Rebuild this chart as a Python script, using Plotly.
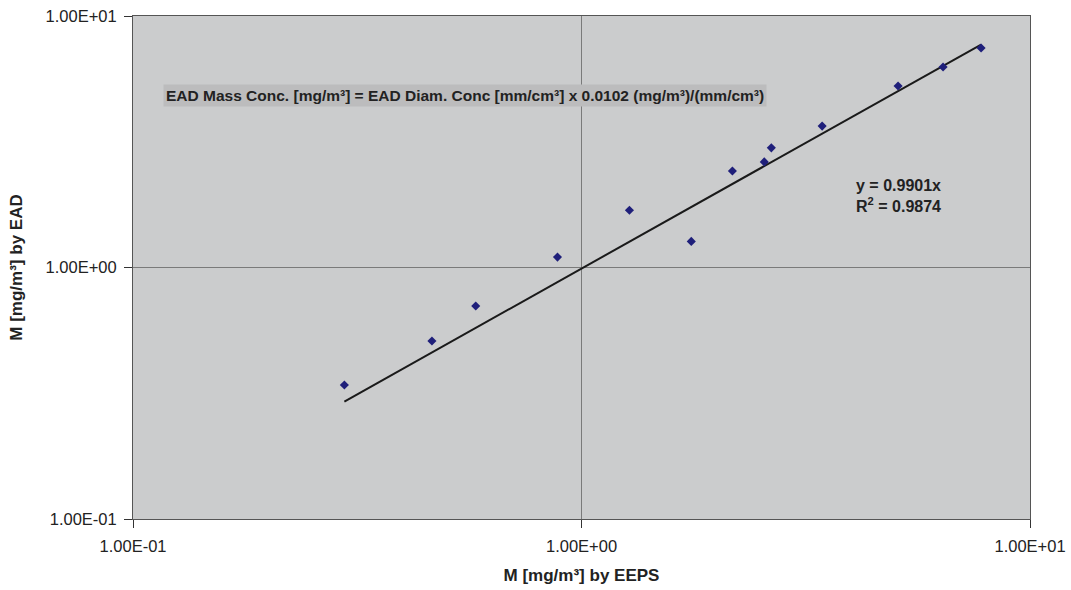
import plotly.graph_objects as go
import numpy as np

# Data
eeps = [0.296, 0.464, 0.581, 0.884, 1.279, 1.757, 2.17, 2.556, 2.65, 3.44, 5.08, 6.40, 7.78]
ead = [0.341, 0.510, 0.703, 1.10, 1.69, 1.27, 2.42, 2.63, 2.99, 3.65, 5.27, 6.27, 7.46]
slope = 0.9901
r2 = 0.9874
tick_vals = [0.1, 1, 10]
tick_text = ["1.00E-01", "1.00E+00", "1.00E+01"]

trend_x = np.logspace(np.log10(min(eeps)), np.log10(max(eeps)), 50)
trend_y = slope * trend_x

fig = go.Figure()
fig.add_trace(go.Scatter(x=trend_x, y=trend_y, mode="lines",
                         line=dict(color="#1a1a1a", width=2), hoverinfo="skip"))
fig.add_trace(go.Scatter(x=eeps, y=ead, mode="markers",
                         marker=dict(symbol="diamond", size=7, color="#1f1f7a")))

font_family = "Liberation Sans, Arial, sans-serif"

axis_common = dict(
    type="log", range=[-1, 1], tickvals=tick_vals, ticktext=tick_text,
    showgrid=True, gridcolor="#7a7a7a", gridwidth=1,
    showline=True, linecolor="#555555", linewidth=1, mirror=True,
    ticks="outside", ticklen=8, tickcolor="#333333",
    zeroline=False, tickfont=dict(size=16.5, color="#222222"),
    automargin=False, ticklabelstandoff=4,
)

fig.update_layout(
    width=1071, height=590,
    margin=dict(l=133, r=41, t=16, b=71),
    paper_bgcolor="white", plot_bgcolor="#cbcccd",
    showlegend=False,
    font=dict(family=font_family, size=16, color="#222222"),
    xaxis=dict(**axis_common,
               title=dict(text="<b>M [mg/m³] by EEPS</b>", font=dict(size=17), standoff=15)),
    yaxis=dict(**axis_common,
               title=dict(text="<b>M [mg/m³] by EAD</b>", font=dict(size=17), standoff=18)),
)

fig.add_annotation(
    xref="paper", yref="paper", x=(163 - 133) / 897, y=1 - (95 - 16) / 503,
    xanchor="left", yanchor="middle", showarrow=False,
    text="<b>EAD Mass Conc. [mg/m³] = EAD Diam. Conc [mm/cm³] x 0.0102 (mg/m³)/(mm/cm³)</b>",
    font=dict(size=15.5, color="#222222"), bgcolor="#bcbcbd", borderpad=2,
)
fig.add_annotation(
    xref="paper", yref="paper", x=(854 - 133) / 897, y=1 - (196 - 16) / 503,
    xanchor="left", yanchor="middle", showarrow=False, align="left",
    text=f"<b>y = {slope}x<br>R<sup>2</sup> = {r2}</b>",
    font=dict(size=16, color="#222222"),
)

fig.write_html("out.html")
